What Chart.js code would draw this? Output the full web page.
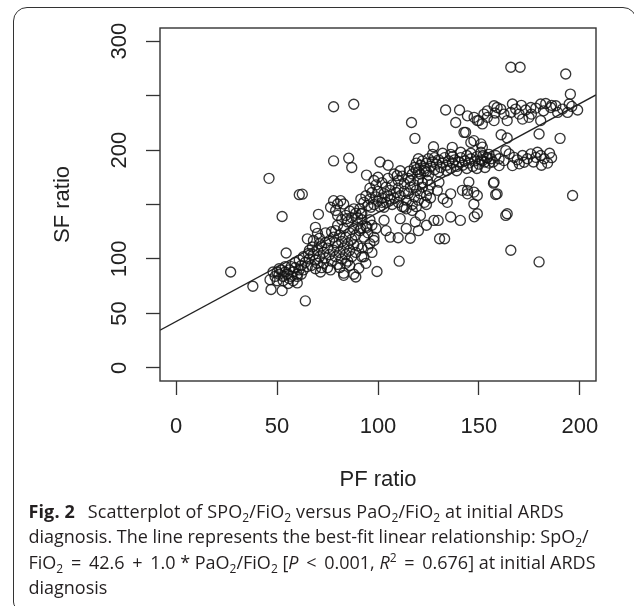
<!DOCTYPE html>
<html><head><meta charset="utf-8">
<script src="https://cdn.jsdelivr.net/npm/chart.js@4.4.1/dist/chart.umd.min.js"></script>
<style>
html,body{margin:0;padding:0;background:#fff;}
#wrap{position:relative;width:634px;height:606px;overflow:hidden;background:#fff;}
#c{position:absolute;left:0;top:0;}
.frame{position:absolute;left:13px;top:7px;width:624px;height:603px;box-sizing:border-box;border:1.2px solid #333;border-radius:14px 14px 0 8px;}
.caption{position:absolute;left:28.5px;top:498.5px;font-family:"Open Sans";font-size:18px;line-height:25.6px;color:#231f20;white-space:nowrap;}
.caption b{font-weight:700;margin-right:8px;}
.caption .l1{letter-spacing:0.12px;}
.caption .sb{font-size:12px;position:relative;top:4px;line-height:0;}
.caption .sp{font-size:12px;position:relative;top:-7px;line-height:0;}
.caption .op{margin:0 3px;}
</style></head>
<body>
<div id="wrap">
<canvas id="c" width="634" height="606"></canvas>
<div class="frame"></div>
<div class="caption">
<span class="l1"><b>Fig. 2</b> Scatterplot of SPO<span class="sb">2</span>/FiO<span class="sb">2</span> versus PaO<span class="sb">2</span>/FiO<span class="sb">2</span> at initial ARDS</span><br>
diagnosis. The line represents the best-fit linear relationship: SpO<span class="sb">2</span>/<br>
FiO<span class="sb">2</span> <span class="op">=</span> 42.6 <span class="op">+</span> 1.0 * PaO<span class="sb">2</span>/FiO<span class="sb">2</span> [<i>P</i> <span class="op">&lt;</span> 0.001, <i>R</i><span class="sp">2</span> <span class="op">=</span> 0.676] at initial ARDS<br>
diagnosis
</div>
</div>
<script>
const observations = [
[27,88],[38,75],[46,174],[61,159],[62.5,159.5],[52.5,139],[54.5,105.5],[64,61.5],[70.5,141],
[46.5,81],[47,72],[52.5,71],[55.5,77.5],[49,84],[50,88],[51,86],[52,90],[53,84],[54,88],[55,86],[56,90],[57,84],[58,88],[59,92],[60,86],[61,90],[62,94],[50,80],[53,80],[56,82],[58,80],[60,84],[62,86],[63,90],[48,88],[57,93],[59,97],[61,99],[60,78],[54,93],[51,91],
[65.5,105],[67.5,111],[70,96],[71.5,88],[65,118.5],[69,129],[70,123.5],[76.5,90],[64,97],[66,100],[67,94],[68,104],[69,99],[70,108],[71,102],[72,112],[73,106],[74,115],[75,110],[63,102],[66,108],[68,117],[71,119],[73,96],[74,101],[75,92],[72,92],[69,91],[76,104],[76,117],[74,124],[71,114],[65,93],
[83,85],[89,83.5],[88,86],[83,87],[92,102],[90.5,91.5],[77,98],[79,102],[78,108],[80,112],[81,106],[82,116],[83,110],[84,120],[85,114],[86,124],[87,118],[88,128],[89,122],[90,132],[91,126],[92,136],[93,120],[94,130],[78,120],[79,126],[80,131],[81,122],[82,136],[83,128],[84,140],[85,134],[86,144],[87,138],[88,146],[89,142],[90,138],[91,146],[92,142],[93,102],[91.5,128],[94.5,129],[98,117],[98,120],[85,98],[87,102],[89,106],[86,94],[90,112],[92,110],[80,95],[82,100],[84,104],[79,115],[77,125],[80,140],[76.5,147.5],[79,144.5],[84.5,137],[91.5,141.5],[96.5,147.5],[78,153.5],[81.5,153.5],[80,150.5],[83,150.5],[95,110],[96,114],[97,106],[94,96],[86,108],[88,113],[84,96],[81,92],[95,124],[96,136],[97,131],[99,128],[99.5,88.5],[110.5,98],[106,120],[110,119.5],[104,126],[103,135.5],
[93,152],[94,158],[95,149],[96,155],[97,161],[98,150],[99,157],[100,153],[100,162],[101,148],[102,156],[103,160],[104,152],[105,158],[106,163],[107,150],[108,156],[109,161],[110,152],[110,165],[111,158],[112,148],[113,162],[114,154],[115,160],[116,166],[117,150],[118,157],[119,163],[120,154],[121,160],[122,166],[123,152],[124,158],[125,163],[126,156],[103,147.5],[113,147.5],[117,144.5],[111,137],[118.5,134],[91.5,155],[96,165],[99,168],[102,152],[106,155],[114,146],[119,148],[124,150],
[94.3,177],[101,189],[105,186],[109.5,176.5],[115.5,180.5],[116,172],[124.5,172],[98,172],[102,170],[105,174],[107,168],[110,172],[112,176],[113,169],[115,174],[117,178],[118,168],[120,173],[121,178],[122,170],[123,181],[125,177],[126,168],[119,182],[111,181],[108,178],[78,190],[85.5,192.5],[87,184],[104,166],[100,175],
[118,184],[119,188],[120,180],[121,186],[122,190],[123,183],[124,188],[125,192],[126,185],[127,189],[128,182],[128,193],[129,187],[130,191],[131,184],[132,188],[133,193],[134,186],[135,190],[136,183],[137,188],[137,194],[138,191],[139,185],[140,189],[141,193],[142,186],[143,190],[144,195],[145,188],[146,192],[147,185],[148,190],[149,194],[150,187],[151,191],[152,195],[153,189],[154,193],[155,188],[156,192],[130,180],[134,181],[139,181],[144,183],[149,183],[127,196],[132,197],[141,198],[146,197],[151,198],[155,196],[120,192],[124,180],[136,196],[153,184],[127.5,203],[136.8,202.5],
[158.3,195],[162.4,190.3],[165,196.4],[167.4,193.3],[170,187.3],[171.6,195],[174,192],[175.7,196.4],[178.2,193.3],[180.6,195],[182.3,192],[166.6,185.7],[160,185.7],[163.3,199.5],[172.4,188.8],[154.2,193.3],[151.7,190.3],[157,189],[160,192],[169,191],[177,189],[184,188],[181,186],[179,198],[186,193],[185,197],
[147.6,230],[150,227],[152.5,233],[154.2,230],[157.5,240.6],[160.8,237.6],[162.4,233],[165.8,234.5],[166.6,242.2],[169.9,233],[173.2,236.7],[174.8,230],[178.2,238.5],[180.6,242.2],[183.1,242.7],[185.6,239],[188.1,240.6],[189,234.5],[191.4,237.6],[194.7,242.2],[193.9,234.5],[198.9,236.7],[164,227],[171.6,228.4],[180.6,227],[175.7,239],[168.2,237.6],[157.5,227],[154.2,236],[138.5,225.3],[133.5,236.7],[140.4,236.7],[143.4,216.2],[146,207],[151,205.6],[151.7,202.6],[179.8,214.7],[161,214],[164,211],[116.6,225.3],[118.3,210.7],[144.3,231.4],[142.6,216.2],[147.5,208.6],[186,241],[159,239],[176,233],[182,236],[196,240],[158,234],[171,241],[190.2,210.7],[149.2,227],[151.7,224],
[78,239.7],[88,242],[165.8,276],[170.4,276],[193,269.8],[195.3,251.3],
[130.2,170.5],[136,159.8],[144.3,159.8],[147.5,150.5],[149.2,141.5],[157.5,170.5],[159,159.8],[164,141.5],[144.3,163],[145,170.6],[149.2,158.3],[134.3,152],[132.3,155.3],[127.7,135.4],[129.8,135.4],[130.5,118.6],[133,118.6],[136,138.5],[140.8,135.4],[147.7,138.7],[163.3,140],[165.8,108],[179.8,97.3],[196.4,158.3],[157.2,169.6],[158.3,159.2],[141.8,163],[147.5,161.4],[129.4,163],[121,140],[124,131],[114,128],[116,119],[120,126]
];
const pfTicks = [0, 50, 100, 150, 200];
const sfTicks = [0, 50, 100, 150, 200, 250, 300];
const sfTickLabels = [0, 50, 100, 200, 300];
const pfRange = [-8, 208];
const sfRange = [-12, 312];
const fitIntercept = 42.6;
const fitSlope = 1.0;

const FONT = 'Liberation Sans, Arial, sans-serif';
const INK = '#222';

const boxPlugin = {
  id: 'box',
  afterDatasetsDraw(chart) {
    const {ctx, chartArea: a} = chart;
    ctx.save();
    ctx.strokeStyle = '#333';
    ctx.lineWidth = 1.4;
    ctx.strokeRect(a.left, a.top, a.right - a.left, a.bottom - a.top);
    ctx.restore();
  }
};

const gridOpts = {display: true, drawOnChartArea: false, drawTicks: true, tickLength: 14, tickWidth: 1.3, tickColor: '#333'};

new Chart(document.getElementById('c'), {
  type: 'scatter',
  data: {
    datasets: [
      {
        label: 'fit',
        data: pfRange.map(x => ({x, y: fitIntercept + fitSlope * x})),
        showLine: true,
        borderColor: '#222',
        borderWidth: 1.4,
        pointRadius: 0,
        fill: false
      },
      {
        label: 'SF vs PF',
        data: observations.map(([x, y]) => ({x, y})),
        pointStyle: 'circle',
        pointRadius: 5,
        pointBorderWidth: 1.35,
        pointBorderColor: 'rgba(20,20,20,0.85)',
        pointBackgroundColor: 'rgba(0,0,0,0)'
      }
    ]
  },
  options: {
    responsive: false,
    animation: false,
    events: [],
    layout: {padding: {left: 0, top: 28, right: 38, bottom: 113}},
    plugins: {legend: {display: false}, tooltip: {enabled: false}},
    scales: {
      x: {
        type: 'linear',
        min: pfRange[0], max: pfRange[1],
        afterBuildTicks: s => { s.ticks = pfTicks.map(v => ({value: v})); },
        afterFit: s => { s.height = 112; },
        ticks: {font: {family: FONT, size: 22}, color: INK, padding: 19, autoSkip: false, maxRotation: 0, callback: v => String(v)},
        grid: gridOpts,
        border: {display: false},
        title: {display: true, text: 'PF ratio', font: {family: FONT, size: 22}, color: INK, padding: {top: 0, bottom: 0}}
      },
      y: {
        type: 'linear',
        min: sfRange[0], max: sfRange[1],
        afterBuildTicks: s => { s.ticks = sfTicks.map(v => ({value: v})); },
        afterFit: s => { s.width = 160; },
        ticks: {font: {family: FONT, size: 22}, color: INK, padding: 8, autoSkip: false, minRotation: 90, maxRotation: 90, crossAlign: 'center',
          callback: v => sfTickLabels.includes(v) ? String(v) : ''},
        grid: gridOpts,
        border: {display: false},
        title: {display: true, text: 'SF ratio', font: {family: FONT, size: 22}, color: INK, padding: {top: 50, bottom: 0}}
      }
    }
  },
  plugins: [boxPlugin]
});
</script>
</body></html>
